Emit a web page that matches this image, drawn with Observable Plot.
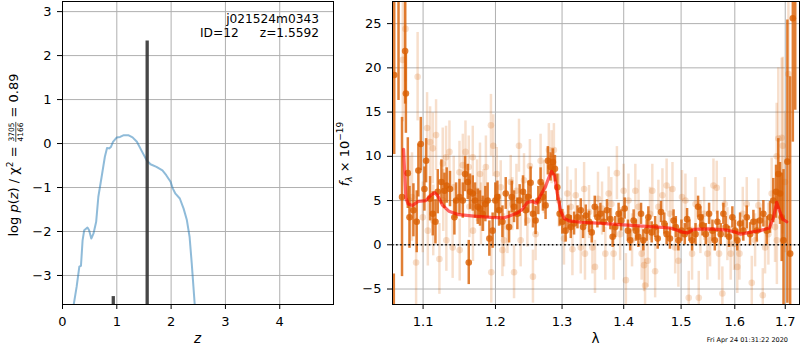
<!DOCTYPE html>
<html><head><meta charset="utf-8">
<script src="https://cdn.jsdelivr.net/npm/d3@7"></script>
<script src="https://cdn.jsdelivr.net/npm/@observablehq/plot@0.6"></script>
<style>
body{margin:0;background:#fff;}
#wrap{position:relative;width:800px;height:350px;overflow:hidden;font-family:"DejaVu Sans";}
#wrap svg{position:absolute;top:0;overflow:visible;}
</style></head><body><div id="wrap"></div>
<script>
// ---------- left panel data: log p(z) ----------
const zGrid = [0.195,0.26,0.31,0.34,0.37,0.40,0.46,0.49,0.53,0.57,0.62,0.66,0.72,0.78,0.82,0.86,0.89,0.93,1.00,1.06,1.13,1.21,1.29,1.37,1.45,1.55,1.62,1.73,1.84,1.91,1.99,2.03,2.08,2.16,2.23,2.29,2.34,2.38,2.44];
const logPz = [-3.75,-3.26,-2.80,-2.78,-2.20,-1.97,-1.91,-1.97,-2.16,-2.05,-1.78,-1.21,-0.76,-0.30,-0.10,-0.11,-0.08,0.04,0.14,0.15,0.19,0.19,0.14,0.04,-0.15,-0.38,-0.47,-0.53,-0.61,-0.72,-0.87,-1.02,-1.14,-1.25,-1.48,-1.74,-2.12,-2.73,-3.75];
const zPeaks = [0.935, 1.5592];
const peakTop = [-3.48, 2.33];
const zTicks = [0,1,2,3,4];
const logTicks = [-3,-2,-1,0,1,2,3];
const objName = "j021524m0343";
const objId = "ID=12";
const objZ = "z=1.5592";

// ---------- right panel data: spectrum ----------
const darkWave = [1.0620,1.0625,1.0680,1.0725,1.0765,1.0775,1.0800,1.0822,1.0873,1.0916,1.0938,1.0970,1.1018,1.1040,1.1093,1.1129,1.1165,1.1196,1.1245,1.1286,1.1317,1.1362,1.1422,1.1445,1.1492,1.1538,1.1570,1.1607,1.1621,1.1639,1.1677,1.1709,1.1747,1.1779,1.1817,1.1855,1.1888,1.1912,1.1959,1.1998,
1.2028,1.2052,1.2101,1.2149,1.2198,1.2237,1.2271,1.2320,1.2354,1.2404,1.2443,1.2484,1.2518,1.2553,1.2593,1.2634,1.2669,1.2704,1.2745,1.2780,1.2822,1.2858,1.2889,1.2926,1.2962,1.3004,1.3056,1.3098,1.3137,1.3189,1.3243,1.3296,1.3333,1.3376,1.3429,1.3472,1.3521,1.3564,
1.3613,1.3667,1.3721,1.3777,1.3815,1.3859,1.3914,1.3959,1.4016,1.4071,1.4109,1.4168,1.4207,1.4249,1.4295,1.4334,1.4392,1.4421,1.4479,1.4539,1.4584,1.4642,1.4700,1.4741,1.4800,1.4865,1.4905,1.4951,1.5006,1.5066,1.5108,1.5151,1.5199,1.5262,1.5309,1.5352,
1.5390,1.5451,1.5513,1.5576,1.5620,1.5669,1.5731,1.5782,1.5826,1.5889,1.5953,1.6003,1.6048,1.6102,1.6165,1.6232,1.6297,1.6362,1.6428,1.6493,1.6559,1.6626,1.6692,1.6758,1.6813,1.6859,1.6894,1.6928,1.6965,1.7044,1.7101,1.7156,1.7206];
const darkFlux = [-12,19.2,32,5.4,21.9,17.1,8.1,3.1,3.9,2.6,8.4,11.4,6.3,9.5,5.2,3.5,2.6,6.0,7.1,6.1,6.7,6.3,3.1,5.0,5.4,5.0,8.0,7.1,-2.0,6.0,5.8,5.0,4.3,4.1,3.5,4.6,5.0,0.7,1.6,5.0,
5.4,3.9,2.6,5.8,2.0,5.4,4.3,3.5,5.0,6.0,3.9,5.4,7.0,3.5,2.75,5.0,7.1,5.4,4.45,9.5,8.8,9.35,8.6,6.5,3.5,2.6,1.6,3.1,2.0,2.4,3.1,3.9,2.0,3.3,2.6,1.4,4.3,3.1,
3.5,2.6,3.9,2.9,0.9,2.0,3.5,2.75,4.1,1.6,0.5,2.75,1.6,0.9,3.5,0.5,1.6,3.1,1.4,2.0,0.7,3.7,2.4,1.2,0.7,2.75,2.0,0.5,1.6,1.2,2.9,1.6,0.5,1.2,4.3,3.1,
2.2,1.2,3.5,1.6,0.5,2.6,1.2,3.5,2.0,0.9,3.1,1.6,0.5,2.4,1.6,3.1,1.2,2.6,1.6,2.75,3.5,1.6,3.1,5.0,6.0,8.0,5.8,3.1,0.5,9.4,-1.0,25.6,30];
const darkErr = [8.7,9,15.7,9,6,4.5,4,3.5,3,3.5,3,3,2.5,2.5,2.5,2.5,2.5,2.5,2.5,2,2,2,2,2,2,2,2,2,2.5,2,2,2,2,2,2,2,2,2,2,2,
1.8,1.8,1.8,1.8,1.8,1.8,1.8,1.8,1.8,1.8,1.8,1.8,1.8,1.6,1.6,1.6,1.6,1.6,1.6,1.6,1.6,1.5,1.5,1.5,1.4,1.4,1.3,1.3,1.3,1.3,1.3,1.3,1.3,1.2,1.2,1.2,1.2,1.2,
1.2,1.2,1.2,1.2,1.2,1.2,1.2,1.2,1.2,1.2,1.2,1.2,1.2,1.2,1.2,1.2,1.2,1.2,1.2,1.2,1.2,1.2,1.2,1.2,1.2,1.2,1.2,1.2,1.2,1.2,1.2,1.2,1.2,1.2,1.2,1.2,
1.2,1.2,1.2,1.2,1.2,1.2,1.2,1.2,1.2,1.2,1.2,1.2,1.2,1.2,1.2,1.3,1.3,1.3,1.3,1.4,1.5,1.6,1.8,2.5,3,4,3.5,5,8,16,20,14,14.8];

const lightWave = [1.0735,1.0770,1.0822,1.0855,1.0908,1.0928,1.0996,1.1053,1.1063,1.1093,1.1129,1.1135,1.1173,1.1218,1.1263,1.1270,1.1308,1.1312,1.1354,1.1398,1.1413,1.1492,1.1495,1.1538,1.1575,1.1621,1.1630,1.1677,1.1680,1.1737,1.1779,1.1793,1.1830,1.1863,1.1935,1.1940,1.1969,
1.2018,1.2076,1.2101,1.2124,1.2174,1.2222,1.2246,1.2271,1.2306,1.2344,1.2369,1.2419,1.2469,1.2507,1.2553,1.2593,1.2669,1.2719,1.2795,1.2837,1.2873,1.2951,1.3030,1.3082,1.3137,1.3163,1.3216,1.3296,1.3349,1.3363,1.3429,1.3483,1.3525,1.3574,
1.3640,1.3694,1.3749,1.3793,1.3831,1.3886,1.3940,1.3999,1.4037,1.4080,1.4141,1.4197,1.4252,1.4305,1.4347,1.4364,1.4409,1.4449,1.4490,1.4539,1.4596,1.4667,1.4741,1.4800,1.4845,1.4893,1.4951,1.5016,1.5078,1.5138,1.5199,1.5262,1.5322,1.5352,
1.5420,1.5482,1.5532,1.5595,1.5656,1.5700,1.5763,1.5807,1.5858,1.5921,1.5984,1.6048,1.6090,1.6154,1.6232,1.6330,1.6395,1.6461,1.6547,1.6593,1.6659,1.6725,1.6793,1.6826,1.6830,1.6859,1.6928,1.6949,1.6996,1.7065];
const lightFlux = [20.9,24.4,5.0,5.4,-2.0,19.0,3.1,13.2,1.6,11.6,10.9,2.75,12.4,-1.6,9.2,5.0,9.9,0.5,10.5,-0.3,6.5,8.2,-0.6,9.0,10.5,8.8,4.3,9.9,1.6,6.1,8.0,3.5,5.0,8.8,13.5,-3.1,11.2,
8.0,6.5,-0.6,0.5,2.0,7.1,4.6,-3.1,6.1,11.2,0.5,7.3,2.75,8.9,-3.6,1.2,9.5,6.5,10.7,9.9,10.7,5.0,0.7,5.8,4.3,-0.5,5.6,-0.3,6.3,-1.0,3.7,-0.3,-2.5,5.2,
4.1,-1.0,5.8,4.6,-1.0,8.1,1.2,6.1,-4.0,5.0,0.5,6.1,4.3,-1.0,-2.3,-4.6,-1.8,3.5,6.1,-3.0,4.3,5.6,6.7,3.5,6.3,-0.3,-1.8,5.4,5.0,-6.0,-1.0,4.6,-6.0,2.0,
3.5,-1.0,0.5,6.7,6.45,-1.0,-5.5,4.6,1.2,-1.0,0.1,-2.5,-1.0,3.5,4.6,-4.3,0.5,4.45,-5.7,-0.3,1.2,5.8,2.0,10.0,0.5,12.0,12.1,11.2,7.1,19.3];
const lightErr = [7,6,5,5,5,5,4,4,4,4,4,4,4,4,4,3.5,3.5,3.5,3.5,3.5,3.5,3.5,3.5,3.5,3.5,3.5,3.5,3.5,3.5,3.5,3.5,3.5,3.5,3.5,3.5,3.5,3.5,
3,3,3,3,3,3,3,3,3,3,3,3,3,3,3,3,3,3,3,3,3,3,3,3,3,3,3,3,3,3,3,3,3,3,
3,3,3,3,3,3,3,3,3,3,3,3,3,3,3,3,3,3,3,3,3,3,3,3,3,3,3,3,3,3,3,3,3,3,
3,3,3,3,3,3,3,3,3,3,3,3,3,3,3,3,3,3,3,3,3.5,4,4,6,5,8,9,10,8,10];

const modelWave = [1.0745,1.0775,1.0805,1.0862,1.0935,1.1036,1.1102,1.1155,1.1199,1.1258,1.1346,1.1487,1.1695,1.1931,1.2124,1.2222,1.2320,1.2394,1.2469,1.2543,1.2608,1.2669,1.2745,1.2795,1.2837,1.2884,1.2926,1.2980,1.3030,1.3110,1.3296,1.3564,1.4000,1.4456,1.4806,1.4955,1.5046,1.5118,1.5226,1.5544,1.5858,1.6009,1.6115,1.6232,1.6493,1.6679,1.6758,1.6826,1.6880,1.6949,1.7030];
const modelFlux = [10.8,5.3,4.6,4.45,4.9,5.0,5.6,5.9,5.5,4.5,3.8,3.4,3.25,3.1,3.05,3.3,3.6,4.0,4.8,4.9,4.7,5.6,6.6,7.6,8.3,7.8,5.8,3.8,3.0,2.7,2.55,2.45,2.25,2.05,1.9,1.6,1.4,1.35,1.75,1.8,1.65,1.45,1.2,1.35,1.6,1.9,3.0,4.8,3.9,2.9,2.6];

const lamTicks = [1.1,1.2,1.3,1.4,1.5,1.6,1.7];
const fluxTicks = [-5,0,5,10,15,20,25];
const stamp = "Fri Apr 24 01:31:22 2020";

// ---------- build tables ----------
const pz = zGrid.map((z,i)=>({z, lp: logPz[i]}));
const zMin = -3.66;
const peaks = zPeaks.map((z,i)=>({z, top: peakTop[i]}));
const dark = darkWave.map((w,i)=>({w, f: darkFlux[i], e: darkErr[i]}));
const light = lightWave.map((w,i)=>({w, f: lightFlux[i], e: lightErr[i]}));
const model = modelWave.map((w,i)=>({w, f: modelFlux[i]}));
const minus = s => String(s).replace("-", "\u2212");
const ORANGE = "#d95f02";
const GRID = "#b0b0b0";
const font = {fontFamily:"DejaVu Sans", fontSize:"13px", background:"white", overflow:"visible"};

const left = Plot.plot({
  width:340, height:350, marginLeft:62, marginRight:7, marginTop:1, marginBottom:46,
  style: font,
  x:{domain:[0,4.99], ticks:zTicks, tickSize:5, tickPadding:7, label:null, tickFormat:d=>minus(d)},
  y:{domain:[zMin,3.23], ticks:logTicks, tickSize:5, tickPadding:6, label:null, tickFormat:d=>minus(d)},
  marks:[
    Plot.ruleX(zTicks,{stroke:GRID, strokeWidth:1}),
    Plot.ruleY(logTicks,{stroke:GRID, strokeWidth:1}),
    Plot.line(pz,{x:"z", y:"lp", stroke:"#1f77b4", strokeOpacity:0.5, strokeWidth:2, clip:true}),
    Plot.ruleX(peaks,{x:"z", y1:()=>zMin, y2:"top", stroke:"#333", strokeOpacity:0.9, strokeWidth:3.3}),
    Plot.frame({stroke:"black"})
  ]
});

const right = Plot.plot({
  width:460, height:350, marginLeft:52, marginRight:1, marginTop:1, marginBottom:46,
  style: font,
  x:{type:"log", domain:[1.0603,1.7294], ticks:lamTicks, tickSize:5, tickPadding:7, label:null, tickFormat:d=>d.toFixed(1)},
  y:{domain:[-6.75,27.5], ticks:fluxTicks, tickSize:5, tickPadding:6, label:null, tickFormat:d=>minus(d)},
  marks:[
    Plot.ruleX(lamTicks,{stroke:GRID, strokeWidth:1}),
    Plot.ruleY(fluxTicks,{stroke:GRID, strokeWidth:1}),
    Plot.ruleX(light,{x:"w", y1:d=>d.f-d.e, y2:d=>d.f+d.e, stroke:ORANGE, strokeOpacity:0.2, strokeWidth:2.5, clip:true}),
    Plot.dot(light,{x:"w", y:"f", r:3.3, fill:ORANGE, fillOpacity:0.2, clip:true}),
    Plot.ruleX(dark,{x:"w", y1:d=>d.f-d.e, y2:d=>d.f+d.e, stroke:ORANGE, strokeOpacity:0.8, strokeWidth:2.5, clip:true}),
    Plot.dot(dark,{x:"w", y:"f", r:3.3, fill:ORANGE, fillOpacity:0.8, clip:true}),
    Plot.line(model,{x:"w", y:"f", stroke:"red", strokeOpacity:0.6, strokeWidth:3.2, clip:true}),
    Plot.ruleY([0],{stroke:"black", strokeWidth:1.5, strokeDasharray:"1.5,2.6"}),
    Plot.frame({stroke:"black"})
  ]
});

const wrap = document.getElementById("wrap");
left.style.left = "0px";
right.style.left = "340px";
wrap.appendChild(left);
wrap.appendChild(right);

// ---------- texts ----------
const L = d3.select(left), R = d3.select(right);
const txt = (sel, x, y, s, opts={}) => {
  const t = sel.append("text").attr("x",x).attr("y",y).attr("font-family","DejaVu Sans")
    .attr("font-size",opts.size||13).attr("text-anchor",opts.anchor||"start").attr("fill","black")
    .style("white-space","pre").text(s);
  if (opts.italic) t.attr("font-style","italic");
  return t;
};
txt(L, 319, 22.8, objName, {size:12.2, anchor:"end"});
txt(L, 200, 37, objId, {size:12.2});
txt(L, 319, 37, objZ, {size:12.2, anchor:"end"});
txt(L, 197.5, 343, "z", {size:13.5, anchor:"middle", italic:true});
txt(R, 255.5, 343, "\u03bb", {size:13.5, anchor:"middle"});
txt(R, 448, 342, stamp, {size:6.5, anchor:"end"});

// left y label with stacked fraction, one text element
{
  const g = L.append("g").attr("transform","translate(18.3,155) rotate(-90)");
  const t = g.append("text").attr("font-family","DejaVu Sans").attr("fill","black").attr("font-size",13)
    .attr("text-anchor","middle").attr("x",0).attr("y",0).style("white-space","pre");
  const numW = 4*0.636*7.5;
  t.append("tspan").text("log ");
  t.append("tspan").attr("font-style","italic").text("p");
  t.append("tspan").text("(");
  t.append("tspan").attr("font-style","italic").text("z");
  t.append("tspan").text(") / \u03c7");
  t.append("tspan").attr("font-size",9).attr("dy",-5).text("2");
  t.append("tspan").attr("dy",5).text(" = ");
  t.append("tspan").attr("font-size",7.5).attr("dy",-4.3).attr("dx",0.8).text("3705");
  t.append("tspan").attr("font-size",7.5).attr("dy",8.9).attr("dx",-numW).text("4166");
  t.append("tspan").attr("dy",-4.6).attr("dx",0.8).text(" = 0.89");
  const full = "log p(z) / \u03c72 = ";
  let x0 = null;
  try {
    const p = t.node().getStartPositionOfChar(full.length);
    const q = t.node().getEndPositionOfChar(full.length + 3);
    if (isFinite(p.x) && isFinite(q.x)) x0 = [p.x, q.x];
  } catch(e) {}
  if (x0) g.append("line").attr("x1",x0[0]-0.5).attr("x2",x0[1]+0.5).attr("y1",-2.5).attr("y2",-2.5)
    .attr("stroke","black").attr("stroke-width",0.7);
}
// right y label
{
  const t = R.append("text").attr("font-family","DejaVu Sans").attr("fill","black").attr("font-size",13)
    .attr("text-anchor","middle").attr("transform","translate(8.5,154) rotate(-90)").style("white-space","pre");
  t.append("tspan").attr("font-style","italic").text("f");
  t.append("tspan").attr("font-size",9).attr("font-style","italic").attr("dy",3).text("\u03bb");
  t.append("tspan").attr("dy",-3).text(" \u00d7 10");
  t.append("tspan").attr("font-size",9).attr("dy",-5.5).text("\u221219");
}
</script></body></html>
